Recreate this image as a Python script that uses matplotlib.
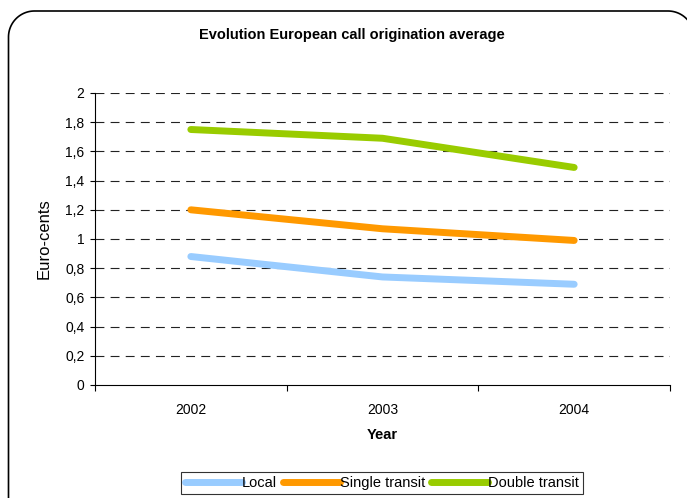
import numpy as np
import matplotlib
matplotlib.use("Agg")
import matplotlib.pyplot as plt
from matplotlib.lines import Line2D
from matplotlib.ticker import FixedLocator
from matplotlib.transforms import Affine2D

plt.rcParams['font.family'] = ['Liberation Sans', 'DejaVu Sans']

years = ["2002", "2003", "2004"]
local = [0.88, 0.74, 0.69]
single_transit = [1.20, 1.07, 0.99]
double_transit = [1.75, 1.69, 1.49]
y_ticks = [0, 0.2, 0.4, 0.6, 0.8, 1.0, 1.2, 1.4, 1.6, 1.8, 2.0]

W, H = 687, 498
fig = plt.figure(figsize=(W / 100, H / 100), dpi=100)

# rounded chart frame outline, in pixel units (origin bottom-left)
px = Affine2D().scale(1 / W, 1 / H) + fig.transFigure
left, right, top, bottom, r = 8.5, 694.0, 487.0, -20.0, 26.0
t1 = np.linspace(np.pi, np.pi / 2, 30)
t2 = np.linspace(np.pi / 2, 0, 30)
fx = np.concatenate([[left], left + r + r * np.cos(t1), right - r + r * np.cos(t2), [right]])
fy = np.concatenate([[bottom], top - r + r * np.sin(t1), top - r + r * np.sin(t2), [bottom]])
fig.lines.append(Line2D(fx, fy, transform=px, color="black", lw=1.2,
                        solid_joinstyle="round"))

ax = fig.add_axes([95 / W, 1 - 385 / H, 575 / W, (385 - 93) / H])
x = list(range(len(years)))
ax.plot(x, local, color="#99CCFF", lw=5, solid_capstyle="round", label="Local")
ax.plot(x, single_transit, color="#FF9900", lw=5, solid_capstyle="round", label="Single transit")
ax.plot(x, double_transit, color="#99CC00", lw=5, solid_capstyle="round", label="Double transit")

ax.set_xlim(-0.5, 2.5)
ax.set_ylim(0, 2)
ax.set_yticks(y_ticks)
ax.set_yticklabels([("%g" % v).replace(".", ",") for v in y_ticks])
ax.set_xticks(x)
ax.set_xticklabels(years)
ax.xaxis.set_minor_locator(FixedLocator([-0.5, 0.5, 1.5, 2.5]))
ax.tick_params(axis="x", which="major", length=0, pad=13, labelsize=10)
ax.tick_params(axis="x", which="minor", length=4, width=0.8)
ax.tick_params(axis="y", length=3.5, width=0.8, labelsize=10, pad=4)

for yv in y_ticks[1:]:
    ax.axhline(yv, color="#222222", lw=0.8, ls=(0, (8, 5.6)), zorder=0)

for side in ("top", "right"):
    ax.spines[side].set_visible(False)
ax.spines["left"].set_linewidth(0.8)
ax.spines["bottom"].set_linewidth(0.8)

ax.set_xlabel("Year", fontsize=10.5, fontweight="bold", labelpad=8)
ax.set_ylabel("Euro-cents", fontsize=12, labelpad=10)

fig.text(352 / W, 1 - 35 / H, "Evolution European call origination average",
         ha="center", va="center", fontsize=10.5, fontweight="bold")

leg = fig.legend(loc="center", bbox_to_anchor=(382 / W, 1 - 483 / H), ncol=3,
                 frameon=True, fancybox=False, edgecolor="black", fontsize=10.5,
                 handlelength=3.9, handletextpad=0.0, columnspacing=0.4,
                 borderpad=0.3, borderaxespad=0)
leg.get_frame().set_linewidth(0.8)

fig.savefig("out.png", dpi=100)
